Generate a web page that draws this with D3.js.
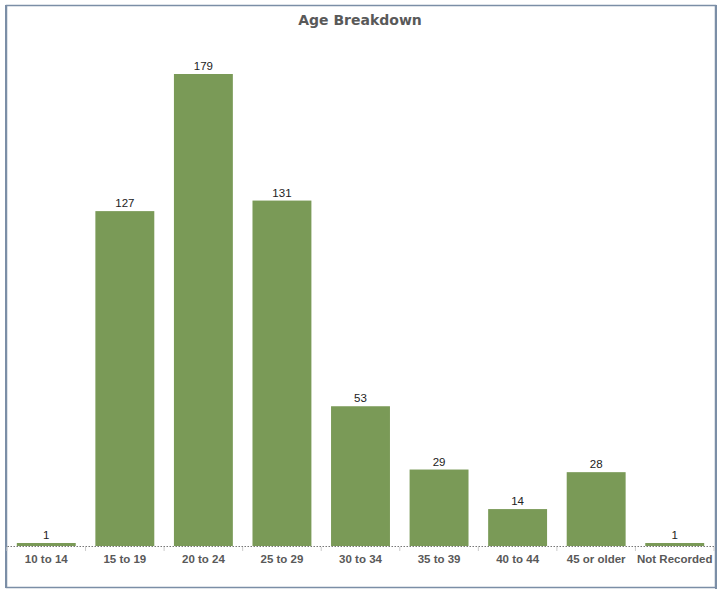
<!DOCTYPE html>
<html>
<head>
<meta charset="utf-8">
<script src="https://cdn.jsdelivr.net/npm/d3@7"></script>
<style>
  body { margin: 0; background: #fff; }
  svg { display: block; }
</style>
</head>
<body>
<script>
// chart data
var categories = ["10 to 14", "15 to 19", "20 to 24", "25 to 29", "30 to 34", "35 to 39", "40 to 44", "45 or older", "Not Recorded"];
var counts = [1, 127, 179, 131, 53, 29, 14, 28, 1];
var chartTitle = "Age Breakdown";

var W = 725, H = 591;
var plot = {left: 7, right: 714, top: 74, bottom: 546};

var svg = d3.select("body").append("svg")
	.attr("width", W)
	.attr("height", H);

// frame round the whole chart
svg.append("rect")
	.attr("x", 6.5).attr("y", 5.5)
	.attr("width", 709).attr("height", 582)
	.attr("fill", "#fff")
	.attr("stroke", "#7b8ea6")
	.attr("stroke-width", 1.5);
svg.append("line")
	.attr("x1", 6).attr("x2", 6).attr("y1", 5).attr("y2", 588)
	.attr("stroke", "#7b8ea6").attr("stroke-width", 2);
svg.append("line")
	.attr("x1", 716).attr("x2", 716).attr("y1", 5).attr("y2", 589)
	.attr("stroke", "#7b8ea6").attr("stroke-width", 2);

var x = d3.scaleBand()
	.domain(categories)
	.range([plot.left, plot.right])
	.paddingInner(0.25)
	.paddingOuter(0.125);

var y = d3.scaleLinear()
	.domain([0, d3.max(counts)])
	.range([plot.bottom, plot.top]);

svg.append("text")
	.attr("x", 360)
	.attr("y", 25)
	.attr("text-anchor", "middle")
	.attr("font-family", "DejaVu Sans, Verdana, sans-serif")
	.attr("font-weight", "bold")
	.attr("font-size", "14px")
	.attr("fill", "#595959")
	.text(chartTitle);

var rows = categories.map(function(c, i){ return {cat: c, val: counts[i]}; });

svg.selectAll("rect.bar")
	.data(rows)
	.enter().append("rect")
	.attr("class", "bar")
	.attr("x", function(d){ return x(d.cat); })
	.attr("y", function(d){ return Math.min(y(d.val), plot.bottom - 3); })
	.attr("width", x.bandwidth())
	.attr("height", function(d){ return Math.max(plot.bottom - y(d.val), 3); })
	.attr("fill", "#7a9a57");

svg.selectAll("text.val")
	.data(rows)
	.enter().append("text")
	.attr("class", "val")
	.attr("x", function(d){ return x(d.cat) + x.bandwidth() / 2; })
	.attr("y", function(d){ return Math.min(y(d.val), plot.bottom - 3) - 4; })
	.attr("text-anchor", "middle")
	.attr("font-family", "Liberation Sans, Arial, sans-serif")
	.attr("font-size", "11.5px")
	.attr("fill", "#222")
	.text(function(d){ return d.val; });

// axis: dotted baseline, small ticks between bands, bold labels
var axis = d3.axisBottom(x).tickSize(0).tickPadding(9);
var g = svg.append("g")
	.attr("transform", "translate(0," + plot.bottom + ")")
	.call(axis);
g.select(".domain")
	.attr("stroke", "#777")
	.attr("stroke-dasharray", "1.5,1.5");
g.selectAll("text")
	.attr("font-family", "Liberation Sans, Arial, sans-serif")
	.attr("font-weight", "bold")
	.attr("font-size", "11.5px")
	.attr("fill", "#595959");

var step = x.step();
var bounds = d3.range(categories.length + 1).map(function(i){ return plot.left + i * step; });
g.selectAll("line.sep")
	.data(bounds)
	.enter().append("line")
	.attr("class", "sep")
	.attr("x1", function(d){ return d; })
	.attr("x2", function(d){ return d; })
	.attr("y1", 1).attr("y2", 5)
	.attr("stroke", "#ccc");
</script>
</body>
</html>
